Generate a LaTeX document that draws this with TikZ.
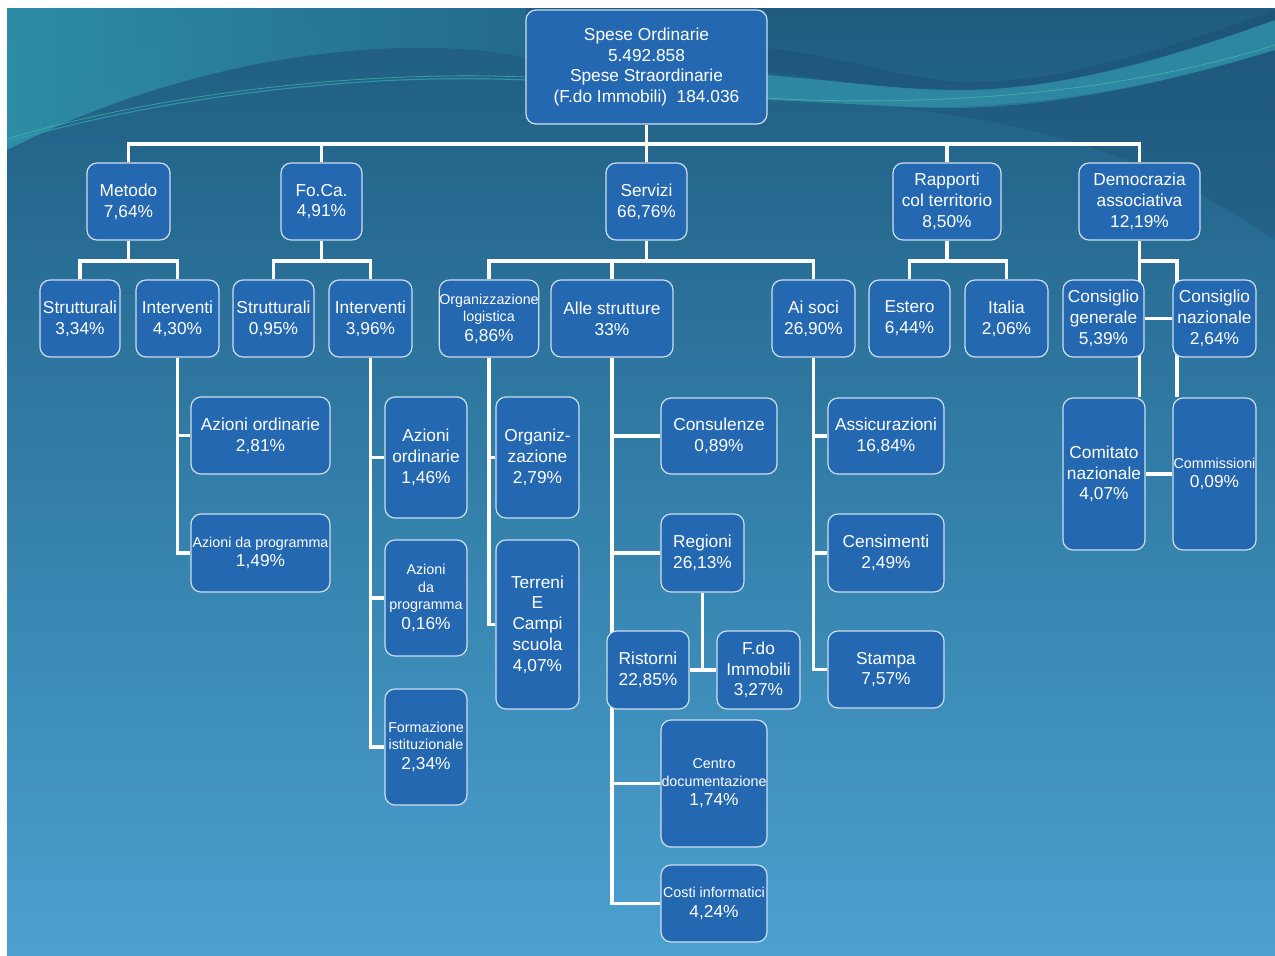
\documentclass[tikz,border=0pt]{standalone}
\usepackage{fontspec}
\setmainfont{Liberation Sans}
\pgfdeclarelayer{bgl}
\pgfdeclarelayer{lines}
\pgfsetlayers{bgl,lines,main}
\definecolor{boxblue}{RGB}{36,104,178}
\definecolor{boxedge}{RGB}{205,222,238}
\definecolor{bgtop}{RGB}{31,92,128}
\definecolor{bgmid}{RGB}{50,126,168}
\definecolor{bgbot}{RGB}{76,160,208}
\definecolor{tealA}{RGB}{46,146,170}
\definecolor{tealB}{RGB}{36,108,142}
\definecolor{tealL}{RGB}{52,156,178}
\definecolor{navyD}{RGB}{26,70,110}
\definecolor{streakG}{RGB}{70,200,170}
\newcommand\bigf{\fontsize{17.3}{20.8}\selectfont}
\newcommand\smf{\fontsize{14.3}{17}\selectfont}
\tikzset{
  box/.style={draw=boxedge, line width=1.2pt, fill=boxblue, rounded corners=10pt,
    text=white, align=center, inner sep=0pt, font=\bigf},
  wh/.style 2 args={minimum width=#1pt, minimum height=#2pt},
  link/.style={draw=white, line width=3.5pt},
}
\begin{document}
\begin{tikzpicture}[x=1pt,y=-1pt]
\useasboundingbox (0,0) rectangle (1275,956);
\begin{pgfonlayer}{bgl}
\fill[white] (0,0) rectangle (1275,956);
\shade[top color=bgtop, bottom color=bgbot, middle color=bgmid] (7,8) rectangle (1275,956);
% top-left teal patch
\shade[left color=tealA, right color=tealB, opacity=0.9]
  (7,8) -- (7,150) .. controls (120,92) and (260,52) .. (400,48)
  .. controls (460,47) and (505,52) .. (526,58) -- (526,8) -- cycle;
\draw[tealL, line width=1.2pt, opacity=0.8] (7,142) .. controls (150,100) and (350,72) .. (526,80);
\draw[streakG, line width=0.8pt, opacity=0.6] (7,139) .. controls (150,96) and (350,70) .. (526,77);
% right swoosh
\fill[navyD, opacity=0.3]
  (766,48) .. controls (850,58) and (900,78) .. (960,82)
  .. controls (1060,84) and (1170,48) .. (1275,10) -- (1275,20)
  .. controls (1170,58) and (1060,92) .. (960,92)
  .. controls (900,92) and (840,80) .. (766,72) -- cycle;
\fill[tealL, opacity=0.65]
  (766,75) .. controls (850,82) and (900,90) .. (960,90)
  .. controls (1060,90) and (1170,58) .. (1275,20) -- (1275,50)
  .. controls (1170,82) and (1060,106) .. (960,108)
  .. controls (900,108) and (830,102) .. (766,100) -- cycle;
\draw[streakG, line width=0.8pt, opacity=0.6] (766,98) .. controls (900,106) and (1100,100) .. (1275,45);
\fill[navyD, opacity=0.25]
  (900,108) .. controls (1060,108) and (1170,82) .. (1275,50) -- (1275,240)
  .. controls (1200,190) and (1100,130) .. (900,108) -- cycle;
\end{pgfonlayer}

% ---- nodes ----
\node[box, wh={241}{114}] (root) at (646.5,67) {Spese Ordinarie\\5.492.858\\Spese Straordinarie\\(F.do Immobili)\ \ 184.036};

\node[box, wh={83}{77}] (metodo) at (128.5,201.5) {Metodo\\7,64\%};
\node[box, wh={81}{77}] (foca) at (321.5,201.5) {Fo.Ca.\\4,91\%};
\node[box, wh={81}{77}] (servizi) at (646.5,201.5) {Servizi\\66,76\%};
\node[box, wh={108}{77}] (rapporti) at (947,201.5) {Rapporti\\col territorio\\8,50\%};
\node[box, wh={121}{77}] (democrazia) at (1139.5,201.5) {Democrazia\\associativa\\12,19\%};

\node[box, wh={80}{77}] (strut1) at (80,318.5) {Strutturali\\3,34\%};
\node[box, wh={83}{77}] (int1) at (177.5,318.5) {Interventi\\4,30\%};
\node[box, wh={81}{77}] (strut2) at (273.5,318.5) {Strutturali\\0,95\%};
\node[box, wh={83}{77}] (int2) at (370.5,318.5) {Interventi\\3,96\%};
\node[box, wh={98}{77}] (orglog) at (489,318.5) {{\smf Organizzazione}\\[-3.5pt]{\smf logistica}\\[-1pt]6,86\%};
\node[box, wh={122}{77}] (alle) at (612,318.5) {Alle strutture\\33\%};
\node[box, wh={83}{77}] (aisoci) at (813.5,318.5) {Ai soci\\26,90\%};
\node[box, wh={81}{77}] (estero) at (909.5,318.5) {Estero\\6,44\%};
\node[box, wh={83}{77}] (italia) at (1006.5,318.5) {Italia\\2,06\%};
\node[box, wh={81}{77}] (consgen) at (1103.5,318.5) {Consiglio\\generale\\5,39\%};
\node[box, wh={83}{77}] (consnaz) at (1214.5,318.5) {Consiglio\\nazionale\\2,64\%};

\node[box, wh={139}{77}] (az1) at (260.5,435.5) {Azioni ordinarie\\2,81\%};
\node[box, wh={139}{78}] (azp1) at (260.5,553) {{\smf Azioni da programma}\\[-1pt]1,49\%};
\node[box, wh={82}{121}] (az2) at (426,457.5) {Azioni\\ordinarie\\1,46\%};
\node[box, wh={82}{116}] (azp2) at (426,598) {{\smf Azioni}\\[-3.5pt]{\smf da}\\[-3.5pt]{\smf programma}\\[-1pt]0,16\%};
\node[box, wh={82}{116}] (form) at (426,747) {{\smf Formazione}\\[-3.5pt]{\smf istituzionale}\\[-1pt]2,34\%};
\node[box, wh={83}{121}] (organiz) at (537.5,457.5) {Organiz-\\zazione\\2,79\%};
\node[box, wh={83}{169}] (terreni) at (537.5,624.5) {Terreni\\E\\Campi\\scuola\\4,07\%};
\node[box, wh={116}{76}] (consul) at (719,436) {Consulenze\\0,89\%};
\node[box, wh={83}{78}] (regioni) at (702.5,553) {Regioni\\26,13\%};
\node[box, wh={82}{78}] (ristorni) at (648,670) {Ristorni\\22,85\%};
\node[box, wh={83}{78}] (fdo) at (758.5,670) {F.do\\Immobili\\3,27\%};
\node[box, wh={106}{127}] (centro) at (714,783.5) {{\smf Centro}\\[-3.5pt]{\smf documentazione}\\[-1pt]1,74\%};
\node[box, wh={106}{77}] (costi) at (714,903.5) {{\smf Costi informatici}\\[-1pt]4,24\%};
\node[box, wh={116}{76}] (assic) at (886,436) {Assicurazioni\\16,84\%};
\node[box, wh={116}{78}] (censi) at (886,553) {Censimenti\\2,49\%};
\node[box, wh={116}{77}] (stampa) at (886,669.5) {Stampa\\7,57\%};
\node[box, wh={82}{152}] (comitato) at (1104,474) {Comitato\\nazionale\\4,07\%};
\node[box, wh={83}{152}] (commiss) at (1214.5,474) {{\smf Commissioni}\\[-1pt]0,09\%};

% ---- connectors ----
\coordinate (b0) at (646.5,144);
\coordinate (m0) at (128.5,261);
\coordinate (f0) at (321.5,261);
\coordinate (s0) at (646.5,261);
\coordinate (r0) at (947,261);
\coordinate (d0) at (1139.5,261);
\coordinate (d1) at (1177,261);
\coordinate (g0) at (702.5,670);
\begin{pgfonlayer}{lines}
\draw[link] (root.south) -- (b0);
\draw[link] (b0) -| (metodo.north);
\draw[link] (b0) -| (foca.north);
\draw[link] (b0) -- (servizi.north);
\draw[link] (b0) -| (rapporti.north);
\draw[link] (b0) -| (democrazia.north);

\draw[link] (metodo.south) -- (m0);
\draw[link] (m0) -| (strut1.north);
\draw[link] (m0) -| (int1.north);
\draw[link] (foca.south) -- (f0);
\draw[link] (f0) -| (strut2.north);
\draw[link] (f0) -| (int2.north);
\draw[link] (servizi.south) -- (s0);
\draw[link] (s0) -| (orglog.north);
\draw[link] (s0) -| (alle.north);
\draw[link] (s0) -| (aisoci.north);
\draw[link] (rapporti.south) -- (r0);
\draw[link] (r0) -| (estero.north);
\draw[link] (r0) -| (italia.north);
\draw[link] (democrazia.south) -- (democrazia.south |- comitato.north);
\draw[link] (d0) -- (d1) -- (d1 |- commiss.north);
\draw[link] (consgen.east) -- (consnaz.west);
\draw[link] (comitato.east) -- (commiss.west);

\draw[link] (int1.south) |- (az1.west);
\draw[link] (int1.south) |- (azp1.west);
\draw[link] (int2.south) |- (az2.west);
\draw[link] (int2.south) |- (azp2.west);
\draw[link] (int2.south) |- (form.west);
\draw[link] (orglog.south) |- (organiz.west);
\draw[link] (orglog.south) |- (terreni.west);
\draw[link] (alle.south) |- (consul.west);
\draw[link] (alle.south) |- (regioni.west);
\draw[link] (alle.south) |- (centro.west);
\draw[link] (alle.south) |- (costi.west);
\draw[link] (regioni.south) -- (g0);
\draw[link] (ristorni.east) -- (fdo.west);
\draw[link] (aisoci.south) |- (assic.west);
\draw[link] (aisoci.south) |- (censi.west);
\draw[link] (aisoci.south) |- (stampa.west);
\end{pgfonlayer}
\end{tikzpicture}
\end{document}
